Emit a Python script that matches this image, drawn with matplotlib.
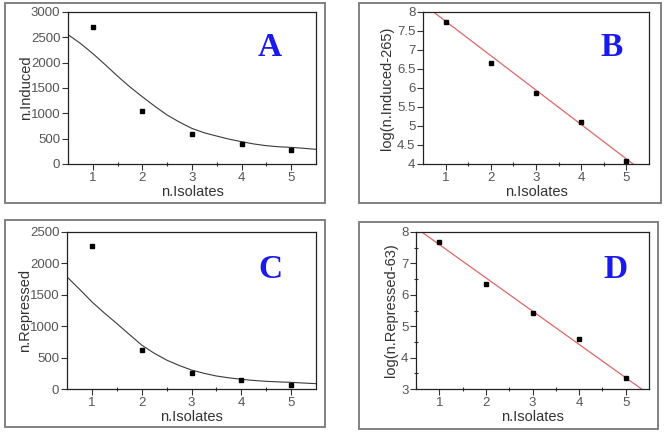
import matplotlib
matplotlib.use("Agg")
import matplotlib.pyplot as plt
from matplotlib.patches import Rectangle

plt.rcParams['font.family'] = ['Liberation Sans', 'DejaVu Sans']

# ---- data ----
isolates = [1, 2, 3, 4, 5]
induced = [2705, 1044, 597, 387, 282]
repressed = [2278, 614, 260, 138, 69]
log_induced = [7.74, 6.66, 5.86, 5.11, 4.07]
log_repressed = [7.68, 6.35, 5.42, 4.59, 3.35]

curve_x = [0.5, 0.75, 1.0, 1.25, 1.5, 1.75, 2.0, 2.25, 2.5, 2.75, 3.0,
           3.25, 3.5, 3.75, 4.0, 4.25, 4.5, 4.75, 5.0, 5.25, 5.5]
curve_induced = [2554, 2380, 2180, 1960, 1733, 1520, 1326, 1140, 965, 825, 702,
                 615, 551, 490, 440, 395, 361, 340, 328, 310, 289]
curve_repressed = [1785, 1590, 1388, 1210, 1043, 870, 699, 570, 461, 375, 302,
                   250, 207, 178, 154, 136, 122, 113, 106, 95, 85]

line_x = [0.5, 5.5]
line_induced = [8.21, 3.68]
line_repressed = [8.13, 2.83]

W, H = 666, 434
fig = plt.figure(figsize=(W / 100, H / 100), dpi=100)


def frac_rect(x0, y0, x1, y1):
    return [x0 / W, 1 - y1 / H, (x1 - x0) / W, (y1 - y0) / H]


# outer frames
for (x0, y0, x1, y1) in [(5, 3, 325, 203), (359, 3, 661, 203),
                         (5, 220, 325, 427), (359, 222, 658, 429)]:
    r = Rectangle((x0 / W, 1 - y1 / H), (x1 - x0) / W, (y1 - y0) / H,
                  transform=fig.transFigure, fill=False,
                  edgecolor='#777777', linewidth=1.3)
    fig.patches.append(r)


def style(ax, ylim, yticks, yminor, ylabel, ypad):
    ax.set_xlim(0.5, 5.5)
    ax.set_ylim(*ylim)
    ax.set_xticks([1, 2, 3, 4, 5])
    ax.set_xticks([1.5, 2.5, 3.5, 4.5], minor=True)
    ax.set_yticks(yticks)
    ax.set_yticks(yminor, minor=True)
    ax.set_yticklabels([('%g' % t) for t in yticks])
    ax.tick_params(which='major', direction='out', length=4, width=0.8,
                   labelsize=9.5, labelcolor='#555555', color='#333333', pad=1.5)
    ax.tick_params(which='minor', direction='inout', length=3, width=0.8,
                   color='#333333')
    for s in ax.spines.values():
        s.set_linewidth(0.9)
        s.set_color('#222222')
    ax.set_xlabel('n.Isolates', fontsize=10.5, color='#333333', labelpad=1)
    ax.set_ylabel(ylabel, fontsize=10.5, color='#333333', labelpad=ypad)


# Panel A
axA = fig.add_axes(frac_rect(68, 12, 316, 164))
axA.plot(curve_x, curve_induced, color='#3a3a3a', lw=0.8)
axA.plot(isolates, induced, 's', color='black', ms=3)
style(axA, (0, 3000), [0, 500, 1000, 1500, 2000, 2500, 3000], [], 'n.Induced', -2)

# Panel B
axB = fig.add_axes(frac_rect(423, 12, 649, 164))
axB.plot(line_x, line_induced, color='#e06666', lw=0.9)
axB.plot(isolates, log_induced, 's', color='black', ms=3)
style(axB, (4, 8), [4, 4.5, 5, 5.5, 6, 6.5, 7, 7.5, 8], [], 'log(n.Induced-265)', 2)

# Panel C
axC = fig.add_axes(frac_rect(67, 232, 316, 389))
axC.plot(curve_x, curve_repressed, color='#3a3a3a', lw=0.8)
axC.plot(isolates, repressed, 's', color='black', ms=3)
style(axC, (0, 2500), [0, 500, 1000, 1500, 2000, 2500], [], 'n.Repressed', -2)

# Panel D
axD = fig.add_axes(frac_rect(416, 232, 649, 389))
axD.plot(line_x, line_repressed, color='#e06666', lw=0.9)
axD.plot(isolates, log_repressed, 's', color='black', ms=3)
style(axD, (3, 8), [3, 4, 5, 6, 7, 8], [3.5, 4.5, 5.5, 6.5, 7.5], 'log(n.Repressed-63)', 2)

# panel letters
for (x, y, t) in [(270, 48, 'A'), (612, 48, 'B'), (270, 270, 'C'), (615, 270, 'D')]:
    fig.text(x / W, 1 - y / H, t, family=['Liberation Serif', 'DejaVu Serif'],
             fontweight='bold', fontsize=24, color='#1a1aee',
             ha='center', va='center')

fig.savefig('out.png', dpi=100)
